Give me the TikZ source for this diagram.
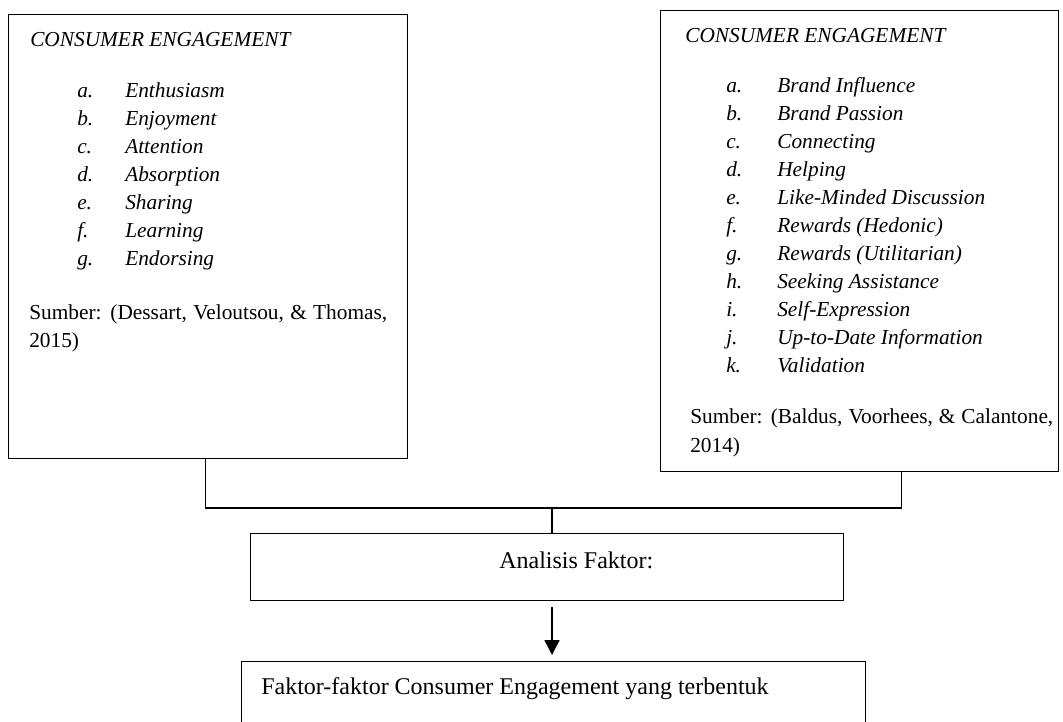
\documentclass[tikz,border=0pt]{standalone}
\usepackage{fontspec}
\setmainfont{Liberation Serif}
\usetikzlibrary{arrows.meta}

\tikzset{
  frame/.style={draw, line width=0.9pt, anchor=north west, inner sep=0pt},
  txt/.style={anchor=base west, inner sep=0pt, font=\fontsize{16}{21}\selectfont},
  ittxt/.style={txt, font=\fontsize{16}{21}\selectfont\itshape},
  bigtxt/.style={anchor=base west, inner sep=0pt, font=\fontsize{18}{22}\selectfont},
  link/.style={line width=0.9pt},
  arr/.style={line width=1.1pt, -{Triangle[length=11.25pt, width=11.25pt]}}
}

\begin{document}
\begin{tikzpicture}[x=0.75pt, y=-0.75pt]
\useasboundingbox (0,0) rectangle (1063,721);

% dimensi Dessart
\node[frame, minimum width=399*0.75pt, minimum height=444*0.75pt] (dessart) at (8,14) {};
\node[ittxt] (dtitle) at (30,46) {CONSUMER ENGAGEMENT};
\foreach \lbl/\itm [count=\i] in {a./Enthusiasm, b./Enjoyment, c./Attention, d./Absorption, e./Sharing, f./Learning, g./Endorsing}{
  \node[ittxt] (dl\i) at (77,{97+28*(\i-1)}) {\lbl};
  \node[ittxt] (di\i) at (125,{97+28*(\i-1)}) {\itm};
}
\node[txt] (dsrc) at (29,319) {\makebox[268.5pt][s]{Sumber: (Dessart, Veloutsou, \& Thomas,}};
\node[txt] (dyear) at (29,347) {2015)};

% dimensi Baldus
\node[frame, minimum width=398*0.75pt, minimum height=461*0.75pt] (baldus) at (660,10) {};
\node[ittxt] (btitle) at (685,42) {CONSUMER ENGAGEMENT};
\foreach \lbl/\itm [count=\i] in {a./Brand Influence, b./Brand Passion, c./Connecting, d./Helping, e./Like-Minded Discussion, f./Rewards (Hedonic), g./Rewards (Utilitarian), h./Seeking Assistance, i./Self-Expression, j./Up-to-Date Information, k./Validation}{
  \node[ittxt] (bl\i) at (726,{92+28*(\i-1)}) {\lbl};
  \node[ittxt] (bi\i) at (777,{92+28*(\i-1)}) {\itm};
}
\node[txt] (bsrc) at (690,423) {\makebox[272.25pt][s]{Sumber: (Baldus, Voorhees, \& Calantone,}};
\node[txt] (byear) at (690,452) {2014)};

% analisis dan hasil
\node[frame, minimum width=593*0.75pt, minimum height=67*0.75pt] (analisis) at (250,533) {};
\node[bigtxt] (atext) at (499,568) {Analisis Faktor:};
\node[frame, minimum width=624*0.75pt, minimum height=90*0.75pt] (hasil) at (241,661) {};
\node[bigtxt] (htext) at (261,694) {Faktor-faktor Consumer Engagement yang terbentuk};

% garis penghubung
\coordinate (jn) at (552,508);
\draw[link] ([xshift=-2.5*0.75pt]dessart.south) |- (jn);
\draw[link] ([xshift=42*0.75pt]baldus.south) |- (jn);
\draw[link] (jn) -- (jn |- analisis.north);
\draw[arr, shorten <=6*0.75pt, shorten >=6*0.75pt] (jn |- analisis.south) -- (jn |- hasil.north);
\end{tikzpicture}
\end{document}
